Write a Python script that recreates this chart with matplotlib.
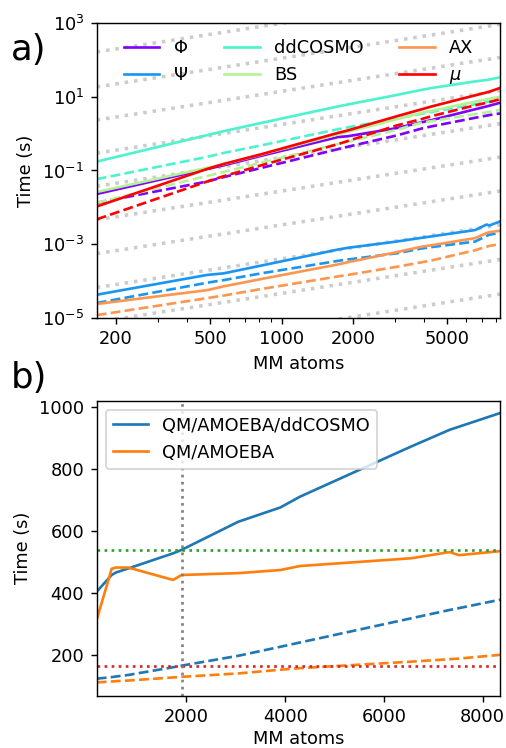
import numpy as np
import matplotlib
matplotlib.use("Agg")
import matplotlib.pyplot as plt
from matplotlib.ticker import NullFormatter, NullLocator, FixedLocator

# ------------------------------------------
# Panel a) timings per term (log-log)
# ------------------------------------------
atoms_a = [166, 485, 570, 820, 1730, 1900, 3050, 3900, 4300, 6550, 7330, 7520, 8344]

phi_solid = [0.023, 0.11, 0.138, 0.25, 0.81, 0.85, 1.41, 2.04, 2.34, 4.6, 5.5, 5.75, 6.9]
phi_dashed = [0.0132, 0.05, 0.066, 0.117, 0.38, 0.44, 0.89, 1.38, 1.58, 2.7, 3.1, 3.2, 3.55]

psi_solid = [4.2e-5, 1.45e-4, 1.6e-4, 2.6e-4, 7.1e-4, 7.9e-4, 1.17e-3, 1.48e-3, 1.62e-3, 2.4e-3, 3.4e-3, 3.2e-3, 4.1e-3]
psi_dashed = [2.5e-5, 8.9e-5, 1.05e-4, 1.6e-4, 3.5e-4, 3.8e-4, 5.6e-4, 7.6e-4, 8.3e-4, 1.17e-3, 1.66e-3, 1.8e-3, 2.0e-3]

cosmo_solid = [0.174, 0.91, 1.17, 1.95, 5.5, 6.2, 11.2, 15.5, 17.4, 26.3, 28.8, 29.5, 34.0]
cosmo_dashed = [0.058, 0.234, 0.30, 0.48, 1.32, 1.48, 2.57, 3.47, 3.9, 6.3, 7.2, 7.4, 8.1]

bs_solid = [0.026, 0.118, 0.148, 0.27, 0.95, 1.12, 2.45, 3.7, 4.2, 7.4, 8.5, 8.9, 10.0]
bs_dashed = [0.0132, 0.071, 0.091, 0.162, 0.52, 0.6, 1.26, 2.0, 2.2, 3.4, 3.8, 3.9, 4.4]

ax_solid = [2.35e-5, 5.6e-5, 7.1e-5, 1.12e-4, 2.8e-4, 3.2e-4, 6.0e-4, 8.5e-4, 9.3e-4, 1.45e-3, 2.0e-3, 2.1e-3, 2.3e-3]
ax_dashed = [1.17e-5, 3.4e-5, 4.0e-5, 6.0e-5, 1.32e-4, 1.45e-4, 2.4e-4, 3.2e-4, 3.6e-4, 6.8e-4, 8.5e-4, 8.9e-4, 1.0e-3]

mu_solid = [0.0105, 0.11, 0.15, 0.275, 1.05, 1.22, 2.95, 4.6, 5.5, 11.0, 13.2, 13.8, 17.4]
mu_dashed = [0.0047, 0.05, 0.07, 0.138, 0.52, 0.63, 1.66, 2.5, 3.0, 5.9, 6.9, 7.2, 8.6]

labels_a = [r"$\Phi$", r"$\Psi$", "ddCOSMO", "BS", "AX", r"$\mu$"]

# linear-scaling guide lines  t = c * N
guide_consts = [1.0, 10**-0.95, 10**-1.85, 10**-2.75, 10**-3.65, 10**-4.56,
                10**-5.48, 10**-6.40, 10**-7.34, 10**-8.28]

# ------------------------------------------
# Panel b) total timings (linear)
# ------------------------------------------
atoms_b = [182, 485, 570, 820, 1730, 1900, 3050, 3900, 4300, 6550, 7330, 7520, 8350]
ddcosmo_total = [404, 458, 466, 479, 528, 539, 630, 676, 711, 873, 927, 937, 981]
amoeba_total = [313, 478, 482, 482, 442, 458, 464, 474, 487, 512, 532, 522, 535]
ddcosmo_dashed = [123, 128, 130, 135, 160, 165, 197, 226, 240, 318, 345, 351, 378]
amoeba_dashed = [111, 114, 115, 117, 127, 129, 140, 152, 157, 178, 186, 188, 200]

green_level = 540
red_level = 165
vline_atoms = 1900

# ------------------------------------------
# Figure
# ------------------------------------------
dpi = 128
fig = plt.figure(figsize=(506 / dpi, 748 / dpi), dpi=dpi)
ax1 = fig.add_axes([0.1911, 0.5753, 0.797, 0.3936])
ax2 = fig.add_axes([0.1911, 0.0699, 0.797, 0.3944])

# --- a) ---
x0, x1 = atoms_a[0], atoms_a[-1]
for c in guide_consts:
    ax1.plot([x0, x1], [c * x0, c * x1], ":", color="0.8", lw=2, zorder=1)

colors = plt.cm.rainbow(np.linspace(0, 1, 6))
solids = [phi_solid, psi_solid, cosmo_solid, bs_solid, ax_solid, mu_solid]
dashes = [phi_dashed, psi_dashed, cosmo_dashed, bs_dashed, ax_dashed, mu_dashed]
for col, lab, ys, yd in zip(colors, labels_a, solids, dashes):
    ax1.plot(atoms_a, ys, "-", color=col, label=lab, zorder=2)
    ax1.plot(atoms_a, yd, "--", color=col, zorder=2)

ax1.set_xscale("log")
ax1.set_yscale("log")
ax1.set_xlim(x0, x1)
ax1.set_ylim(1e-5, 1e3)
ax1.set_xticks([200, 500, 1000, 2000, 5000])
ax1.set_xticklabels(["200", "500", "1000", "2000", "5000"])
ax1.xaxis.set_minor_formatter(NullFormatter())
ax1.yaxis.set_major_locator(FixedLocator([1e-5, 1e-3, 1e-1, 1e1, 1e3]))
ax1.yaxis.set_minor_locator(NullLocator())
ax1.set_xlabel("MM atoms")
ax1.set_ylabel("Time (s)")
ax1.legend(loc="upper center", ncol=3, frameon=False)

# --- b) ---
ax2.plot(atoms_b, ddcosmo_total, "-", color="tab:blue", label="QM/AMOEBA/ddCOSMO")
ax2.plot(atoms_b, amoeba_total, "-", color="tab:orange", label="QM/AMOEBA")
ax2.plot(atoms_b, ddcosmo_dashed, "--", color="tab:blue")
ax2.plot(atoms_b, amoeba_dashed, "--", color="tab:orange")
ax2.axhline(green_level, ls=":", color="tab:green")
ax2.axhline(red_level, ls=":", color="tab:red")
ax2.axvline(vline_atoms, ls=":", color="gray")
ax2.set_xlim(atoms_b[0], atoms_b[-1])
ax2.set_ylim(68, 1021)
ax2.set_xticks([2000, 4000, 6000, 8000])
ax2.set_yticks([200, 400, 600, 800, 1000])
ax2.set_xlabel("MM atoms", labelpad=2)
ax2.set_ylabel("Time (s)")
ax2.legend(loc="upper left")

fig.text(0.022, 1 - 60 / 748, "a)", fontsize=20, va="baseline")
fig.text(0.022, 1 - 388 / 748, "b)", fontsize=20, va="baseline")

fig.savefig("out.png", dpi=dpi)
